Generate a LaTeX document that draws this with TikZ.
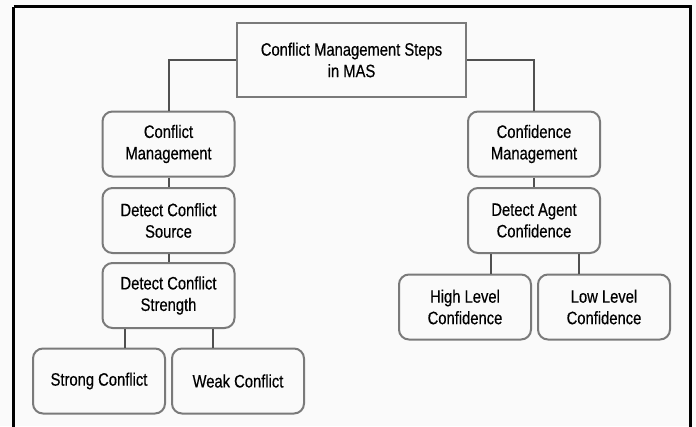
\documentclass[tikz,border=0pt]{standalone}
\usepackage{fontspec}
\setmainfont{Liberation Sans}[FakeStretch=0.82,FakeBold=0.4]
\definecolor{bg}{HTML}{FAFAFA}
\definecolor{boxline}{HTML}{7A7A7A}
\definecolor{conn}{HTML}{505050}
\begin{document}
\begin{tikzpicture}[x=1pt,y=-1pt,
  every node/.style={font=\fontsize{18}{21.5}\selectfont, text=black, align=center, inner sep=0pt},
  topbox/.style={draw=boxline, line width=2pt, fill=bg, minimum width=229pt, minimum height=74pt},
  rbox/.style={draw=boxline, line width=2pt, fill=bg, rounded corners=10pt, minimum width=132pt, minimum height=65pt},
  link/.style={draw=conn, line width=2pt}]
\useasboundingbox (0,0) rectangle (696,426);
\fill[bg] (0,0) rectangle (696,426);
\draw[line width=3pt, black] (13.5,6.5) -- (690,6.5) -- (690,430) (13.5,6.5) -- (13.5,430);

\node[topbox] (top) at (351.5,60) {Conflict Management Steps\\ in MAS};

\node[rbox] (cm) at (168.5,144) {Conflict\\Management};
\node[rbox] (src) at (168.5,220.5) {Detect Conflict\\Source};
\node[rbox] (str) at (168.5,295.5) {Detect Conflict\\Strength};
\node[rbox] (strong) at (99,381) {Strong Conflict};
\node[rbox] (weak) at (238,381) {Weak Conflict};

\node[rbox] (conf) at (534,144) {Confidence\\Management};
\node[rbox] (agent) at (534,220.5) {Detect Agent\\Confidence};
\node[rbox] (high) at (465,307) {High Level\\Confidence};
\node[rbox] (low) at (604,307) {Low Level\\Confidence};

\draw[link] (top.west) -| (cm.north);
\draw[link] (top.east) -| (conf.north);
\draw[link] (cm.south) -- (src.north);
\draw[link] (src.south) -- (str.north);
\draw[link] ([xshift=-44pt]str.south) -- ([xshift=-44pt]str.south |- strong.north);
\draw[link] ([xshift=44pt]str.south) -- ([xshift=44pt]str.south |- weak.north);
\draw[link] (conf.south) -- (agent.north);
\draw[link] ([xshift=-43pt]agent.south) -- ([xshift=-43pt]agent.south |- high.north);
\draw[link] ([xshift=45pt]agent.south) -- ([xshift=45pt]agent.south |- low.north);
\end{tikzpicture}
\end{document}
